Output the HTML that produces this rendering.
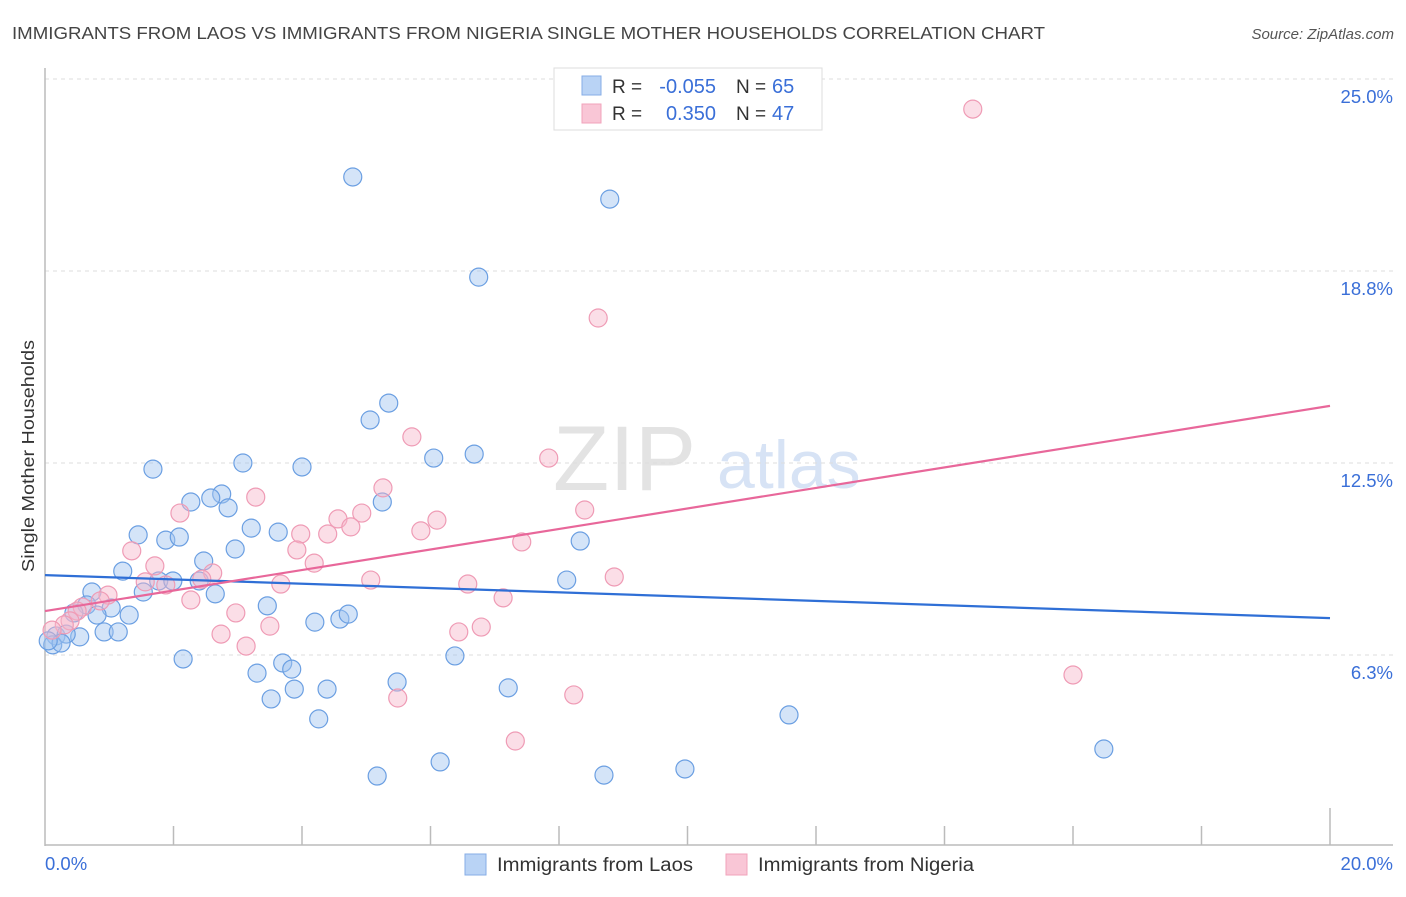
<!DOCTYPE html>
<html><head><meta charset="utf-8"><style>
body{margin:0;background:#fff;font-family:"Liberation Sans",sans-serif}
svg text{font-family:"Liberation Sans",sans-serif}
</style></head><body>
<svg id="chart" width="1406" height="892" viewBox="0 0 1406 892" xmlns="http://www.w3.org/2000/svg">
<text x="12" y="39" font-size="17.5" fill="#444" textLength="1033" lengthAdjust="spacingAndGlyphs">IMMIGRANTS FROM LAOS VS IMMIGRANTS FROM NIGERIA SINGLE MOTHER HOUSEHOLDS CORRELATION CHART</text>
<text x="1394" y="39" font-size="15" font-style="italic" fill="#555" text-anchor="end">Source: ZipAtlas.com</text>
<g>
<text x="553" y="490" font-size="92" font-family="Liberation Serif" fill="#d8d8d8" opacity="0.7">ZIP</text>
<text x="717" y="488" font-size="68" fill="#b8cdee" opacity="0.55">atlas</text>
</g>
<g id="grid"></g>
<g id="axes"></g>
<g id="marks"></g>
<text transform="translate(34,456) rotate(-90)" font-size="17.5" fill="#333" text-anchor="middle" textLength="232" lengthAdjust="spacingAndGlyphs">Single Mother Households</text>
<g>
<rect x="554" y="68" width="268" height="62" fill="#fff" stroke="#ddd"/>
<rect x="582" y="76" width="19" height="19" fill="#b9d3f5" stroke="#86ace6"/>
<rect x="582" y="104" width="19" height="19" fill="#f9c6d6" stroke="#f1a3bb"/>
<text x="612" y="93" font-size="19" fill="#333">R =</text>
<text x="716" y="93" font-size="20" fill="#3a6fd8" text-anchor="end">-0.055</text>
<text x="736" y="93" font-size="19" fill="#333">N =</text>
<text x="772" y="93" font-size="20" fill="#3a6fd8">65</text>
<text x="612" y="120" font-size="19" fill="#333">R =</text>
<text x="716" y="120" font-size="20" fill="#3a6fd8" text-anchor="end">0.350</text>
<text x="736" y="120" font-size="19" fill="#333">N =</text>
<text x="772" y="120" font-size="20" fill="#3a6fd8">47</text>
</g>
<g>
<rect x="465" y="854" width="21" height="21" fill="#b9d3f5" stroke="#86ace6"/>
<text x="497" y="871" font-size="19" fill="#333" textLength="196" lengthAdjust="spacingAndGlyphs">Immigrants from Laos</text>
<rect x="726" y="854" width="21" height="21" fill="#f9c6d6" stroke="#f1a3bb"/>
<text x="758" y="871" font-size="19" fill="#333" textLength="216" lengthAdjust="spacingAndGlyphs">Immigrants from Nigeria</text>
</g>
</svg>
<script>
const blueX=[4.79,8.79,6.75,5.35,5.06,6.68,6.05,1.68,3.08,4.00,2.75,2.27,2.58,2.85,5.25,3.21,3.63,1.45,1.88,2.09,2.96,8.33,1.21,2.47,1.77,1.99,2.40,1.53,2.65,0.73,8.12,0.65,1.03,1.31,0.81,3.46,4.20,4.59,4.72,0.45,0.92,1.14,0.54,0.17,0.33,0.12,0.25,0.05,2.15,3.70,3.84,3.30,6.38,5.48,3.88,4.39,7.21,3.52,4.26,11.58,16.48,6.15,5.17,8.70,9.96];
const blueY=[21.81,21.09,18.55,14.45,13.90,12.79,12.66,12.30,12.50,12.37,11.49,11.23,11.36,11.04,11.23,10.38,10.25,10.16,9.99,10.09,9.70,9.96,8.98,9.31,8.66,8.66,8.66,8.30,8.24,8.30,8.69,7.88,7.78,7.55,7.55,7.85,7.32,7.42,7.58,7.62,7.00,7.00,6.84,6.87,6.93,6.58,6.64,6.71,6.12,5.99,5.79,5.66,6.22,5.37,5.14,5.14,5.18,4.82,4.17,4.30,3.19,2.77,2.31,2.34,2.54];
const pinkX=[14.44,8.61,5.71,7.84,5.26,3.28,2.10,4.56,4.93,6.10,8.40,4.76,5.85,3.98,4.40,7.42,1.35,3.92,4.19,1.71,2.61,8.86,5.07,6.58,1.56,1.88,2.44,3.67,0.98,2.27,7.13,0.86,2.97,0.58,0.50,0.39,0.30,3.50,6.79,6.44,2.74,3.13,0.11,5.49,8.23,16.00,7.32];
const pinkY=[24.02,17.22,13.35,12.66,11.69,11.39,10.87,10.68,10.87,10.64,10.97,10.42,10.29,10.19,10.19,9.93,9.64,9.67,9.24,9.15,8.92,8.79,8.69,8.56,8.63,8.53,8.72,8.56,8.20,8.04,8.11,8.01,7.62,7.81,7.68,7.36,7.23,7.19,7.16,7.00,6.93,6.54,7.06,4.85,4.95,5.60,3.45];
const blueTrend=[8.85,7.45];
const pinkTrend=[7.68,14.36];
const yTicks=[6.25,12.5,18.75,25];
const yTickLabels=["6.3%","12.5%","18.8%","25.0%"];
const xTickLabels=["0.0%","20.0%"];

const X0=45,X1=1330,Y0=847,PPU=30.72;
const sx=v=>X0+(v/20)*(X1-X0);
const sy=v=>Y0-v*PPU;
const NS="http://www.w3.org/2000/svg";
function mk(tag,attrs,parent){const e=document.createElementNS(NS,tag);for(const k in attrs)e.setAttribute(k,attrs[k]);parent.appendChild(e);return e;}
const grid=document.getElementById('grid'),axes=document.getElementById('axes'),marks=document.getElementById('marks');
yTicks.forEach((t,i)=>{
  const l=mk('line',{x1:X0,x2:1393,y1:sy(t),y2:sy(t),stroke:'#ddd','stroke-dasharray':'4,4'},grid);
  
  
  const tx=mk('text',{x:1393,y:sy(t)+24,'font-size':18.5,fill:'#3a6fd8','text-anchor':'end'},axes);
  tx.textContent=yTickLabels[i];
  
  
});
const ya=mk('line',{x1:X0,x2:X0,y1:68,y2:846,stroke:'#bbb','stroke-width':1.5},axes);


const xa=mk('line',{x1:X0,x2:1393,y1:845,y2:845,stroke:'#bbb','stroke-width':1.5},axes);


for(let i=1;i<=10;i++){
  const x=sx(i*2);
  const tk=mk('line',{x1:x,x2:x,y1:i===10?808:826,y2:845,stroke:'#bbb','stroke-width':1.5},axes);
  
  
}
const xl0=mk('text',{x:45,y:870,'font-size':18.5,fill:'#3a6fd8'},axes);xl0.textContent=xTickLabels[0];


const xl1=mk('text',{x:1393,y:870,'font-size':18.5,fill:'#3a6fd8','text-anchor':'end'},axes);xl1.textContent=xTickLabels[1];


blueX.forEach((v,i)=>{
  const c=mk('circle',{cx:sx(v),cy:sy(blueY[i]),r:9,fill:'rgba(160,196,240,0.45)',stroke:'#6b9fe2','stroke-width':1.2},marks);
  
  
});
pinkX.forEach((v,i)=>{
  const c=mk('circle',{cx:sx(v),cy:sy(pinkY[i]),r:9,fill:'rgba(246,182,202,0.45)',stroke:'#ef9bb5','stroke-width':1.2},marks);
  
  
});
const bl=mk('line',{x1:sx(0),x2:sx(20),y1:sy(blueTrend[0]),y2:sy(blueTrend[1]),stroke:'#2f6fd6','stroke-width':2.2},marks);


const pl=mk('line',{x1:sx(0),x2:sx(20),y1:sy(pinkTrend[0]),y2:sy(pinkTrend[1]),stroke:'#e8679a','stroke-width':2.2},marks);


</script>
</body></html>
